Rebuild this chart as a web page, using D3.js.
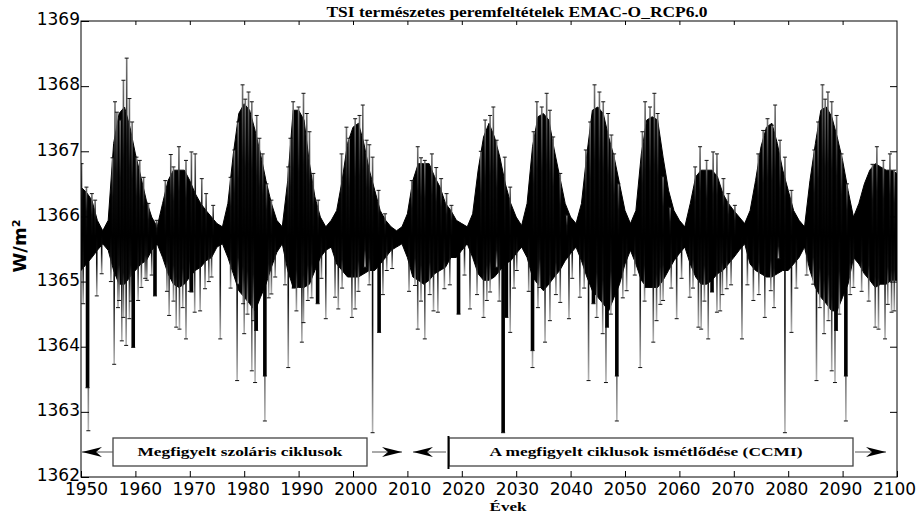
<!DOCTYPE html>
<html>
<head>
<meta charset="utf-8">
<script src="https://cdn.jsdelivr.net/npm/d3@7"></script>
<style>
  body { margin: 0; background: #fff; }
  svg { display: block; }
</style>
</head>
<body>
<div id="chart"></div>
<script>
'use strict'

// x categories: one core band value per year
const years = d3.range(1950, 2101)

// upper edge of the dense black band, W/m2 (1950 ... 2100)
const coreTop = [
  1366.45, 1366.37, 1366.25, 1365.94, 1365.78, 1365.94, 1367.12, 1367.58, 1367.68, 1367.37,
  1366.96, 1366.61, 1366.25, 1365.99, 1365.84, 1366.20, 1366.55, 1366.71, 1366.71, 1366.71,
  1366.55, 1366.35, 1366.20, 1366.09, 1365.99, 1365.89, 1365.84, 1366.20, 1366.96, 1367.58,
  1367.73, 1367.63, 1367.32, 1366.96, 1366.55, 1366.20, 1365.94, 1365.84, 1366.55, 1367.63,
  1367.63, 1367.48, 1366.81, 1366.30, 1365.99, 1365.84, 1365.94, 1366.09, 1366.55, 1367.12,
  1367.37, 1367.43, 1367.12, 1366.71, 1366.40, 1366.09, 1365.94, 1365.84, 1365.78, 1365.84,
  1366.04, 1366.55, 1366.81, 1366.81, 1366.81, 1366.61, 1366.45, 1366.20, 1366.09, 1365.94,
  1365.89, 1365.84, 1366.04, 1366.71, 1367.22, 1367.43, 1367.22, 1366.91, 1366.50, 1366.20,
  1365.99, 1365.86, 1366.20, 1367.07, 1367.53, 1367.58, 1367.48, 1367.02, 1366.61, 1366.20,
  1365.99, 1365.89, 1366.20, 1366.96, 1367.63, 1367.68, 1367.58, 1367.22, 1366.91, 1366.50,
  1366.09, 1365.89, 1366.09, 1366.96, 1367.48, 1367.53, 1367.48, 1366.91, 1366.40, 1366.09,
  1365.94, 1365.84, 1366.20, 1366.61, 1366.71, 1366.71, 1366.71, 1366.61, 1366.35, 1366.20,
  1366.09, 1365.99, 1365.89, 1366.09, 1366.55, 1367.07, 1367.37, 1367.43, 1367.12, 1366.71,
  1366.40, 1366.09, 1365.94, 1365.84, 1366.55, 1367.12, 1367.63, 1367.68, 1367.53, 1367.22,
  1366.86, 1366.40, 1365.99, 1366.20, 1366.50, 1366.71, 1366.81, 1366.76, 1366.71, 1366.71,
  1366.66
]

// lower edge of the dense black band, W/m2 (1950 ... 2100)
const coreBottom = [
  1365.17, 1365.27, 1365.37, 1365.48, 1365.58, 1365.48, 1365.17, 1364.96, 1364.96, 1365.07,
  1365.17, 1365.27, 1365.32, 1365.48, 1365.58, 1365.37, 1365.12, 1364.96, 1364.91, 1364.96,
  1365.07, 1365.17, 1365.22, 1365.32, 1365.37, 1365.53, 1365.58, 1365.37, 1365.12, 1364.86,
  1364.76, 1364.66, 1364.55, 1364.76, 1364.96, 1365.22, 1365.45, 1365.58, 1365.17, 1364.91,
  1364.91, 1364.91, 1364.96, 1365.17, 1365.37, 1365.48, 1365.53, 1365.27, 1365.17, 1365.07,
  1365.07, 1365.07, 1365.12, 1365.17, 1365.17, 1365.27, 1365.37, 1365.48, 1365.53, 1365.58,
  1365.37, 1365.07, 1365.02, 1364.96, 1365.02, 1365.12, 1365.17, 1365.22, 1365.37, 1365.37,
  1365.48, 1365.58, 1365.37, 1365.12, 1365.02, 1365.02, 1365.07, 1365.17, 1365.27, 1365.32,
  1365.43, 1365.53, 1365.37, 1365.07, 1364.96, 1364.86, 1364.96, 1365.07, 1365.17, 1365.32,
  1365.43, 1365.53, 1365.32, 1365.07, 1364.86, 1364.76, 1364.66, 1364.55, 1364.76, 1364.96,
  1365.27, 1365.48, 1365.27, 1365.02, 1364.91, 1364.91, 1364.91, 1365.02, 1365.17, 1365.32,
  1365.43, 1365.53, 1365.27, 1365.07, 1364.96, 1364.96, 1365.02, 1365.12, 1365.17, 1365.27,
  1365.37, 1365.48, 1365.58, 1365.27, 1365.17, 1365.12, 1365.07, 1365.07, 1365.12, 1365.17,
  1365.17, 1365.27, 1365.37, 1365.53, 1365.17, 1364.91, 1364.76, 1364.66, 1364.55, 1364.55,
  1364.76, 1364.96, 1365.37, 1365.27, 1365.12, 1365.02, 1364.91, 1364.96, 1364.96, 1365.02,
  1365.02
]

// single-day highs sticking out above the band: [year, W/m2]
const peakSpikes = [
  [1950.1, 1366.81], [1951.0, 1366.45], [1952.0, 1366.35], [1952.6, 1366.25],
  [1955.8, 1366.90], [1956.25, 1367.76], [1956.6, 1367.60], [1957.2, 1367.48], [1957.8, 1368.09],
  [1958.4, 1368.43], [1958.9, 1367.81], [1959.4, 1367.45], [1960.2, 1366.91], [1960.8, 1366.86],
  [1961.5, 1366.60], [1962.4, 1366.20], [1963.9, 1365.94],
  [1965.5, 1366.55], [1966.5, 1366.95], [1967.0, 1366.76], [1968.0, 1367.07], [1969.3, 1366.86],
  [1970.3, 1366.99], [1971.0, 1366.96], [1972.2, 1366.58], [1973.0, 1366.35], [1974.3, 1366.17],
  [1977.5, 1366.60], [1978.2, 1367.02], [1978.9, 1367.45], [1979.7, 1368.02], [1980.2, 1367.80],
  [1980.8, 1367.91], [1981.4, 1367.76], [1982.3, 1367.55], [1982.8, 1367.20], [1983.4, 1366.96],
  [1984.1, 1366.50], [1985.0, 1366.25],
  [1988.1, 1366.76], [1988.5, 1367.20], [1989.0, 1367.76], [1990.0, 1367.68], [1990.9, 1367.89],
  [1991.5, 1367.58], [1992.0, 1367.30], [1992.7, 1366.66], [1993.6, 1366.25],
  [1997.9, 1366.96], [1998.8, 1367.37], [1999.3, 1367.20], [2000.4, 1367.50], [2001.2, 1367.55],
  [2001.8, 1367.71], [2002.5, 1367.17], [2003.0, 1367.10], [2003.6, 1366.91], [2004.7, 1366.40],
  [2005.9, 1366.04],
  [2010.8, 1366.55], [2011.9, 1367.07], [2012.5, 1366.90], [2013.2, 1366.86], [2014.5, 1366.96],
  [2015.3, 1366.75], [2016.2, 1366.58], [2017.2, 1366.35], [2018.1, 1366.17],
  [2023.5, 1367.00], [2024.3, 1367.48], [2025.2, 1367.55], [2025.8, 1367.68], [2026.4, 1367.17],
  [2027.9, 1366.91], [2028.9, 1366.45],
  [2033.2, 1367.30], [2033.8, 1367.76], [2034.7, 1367.68], [2035.6, 1367.89], [2036.2, 1367.63],
  [2036.8, 1367.22], [2038.1, 1366.66], [2039.3, 1366.02],
  [2042.8, 1367.02], [2043.6, 1367.45], [2044.4, 1368.02], [2045.3, 1367.91], [2046.0, 1367.76],
  [2046.9, 1367.58], [2047.5, 1367.25], [2048.0, 1366.96], [2048.8, 1366.50],
  [2053.2, 1367.30], [2053.7, 1367.76], [2054.6, 1367.68], [2055.4, 1367.89], [2056.0, 1367.58],
  [2057.0, 1366.61], [2058.3, 1366.14],
  [2062.9, 1366.76], [2063.8, 1367.07], [2065.0, 1366.86], [2066.2, 1366.99], [2066.9, 1366.96],
  [2068.1, 1366.58], [2069.0, 1366.35], [2070.2, 1366.17],
  [2074.5, 1366.96], [2075.4, 1367.32], [2076.2, 1367.50], [2077.0, 1367.40], [2077.6, 1367.71],
  [2078.5, 1367.17], [2079.4, 1366.91], [2080.6, 1366.40],
  [2084.8, 1367.02], [2085.5, 1367.45], [2086.3, 1368.02], [2086.8, 1367.80], [2087.3, 1367.91],
  [2088.0, 1367.76], [2088.9, 1367.55], [2089.8, 1366.96], [2090.8, 1366.50],
  [2095.5, 1366.80], [2096.3, 1367.07], [2097.5, 1366.86], [2098.7, 1366.96], [2099.5, 1366.71]
]

// single-day lows below the band (sunspot dips): [year, W/m2]
const dipSpikes = [
  [1950.4, 1364.66], [1951.35, 1362.71], [1952.9, 1364.78], [1953.8, 1365.12],
  [1955.5, 1365.00], [1956.1, 1363.73], [1956.8, 1364.60], [1957.0, 1364.71], [1957.5, 1364.09],
  [1957.8, 1364.45], [1958.3, 1364.02], [1958.9, 1364.43], [1959.2, 1364.70], [1960.5, 1364.71],
  [1961.1, 1364.91], [1961.8, 1365.05], [1962.1, 1365.02], [1963.0, 1365.10],
  [1965.8, 1364.85], [1966.2, 1364.48], [1967.0, 1364.70], [1967.5, 1364.30], [1968.1, 1364.27],
  [1968.7, 1364.60], [1969.3, 1364.12], [1970.0, 1364.85], [1970.9, 1364.53], [1971.9, 1364.55],
  [1972.8, 1364.89], [1973.5, 1365.00], [1974.0, 1365.07], [1975.6, 1364.12],
  [1977.5, 1364.90], [1978.7, 1363.48], [1978.9, 1364.96], [1979.8, 1364.66], [1980.0, 1364.20],
  [1980.6, 1364.50], [1981.4, 1363.63], [1981.7, 1364.40], [1982.0, 1363.45], [1983.8, 1362.86],
  [1984.5, 1364.75], [1985.0, 1364.81], [1985.7, 1365.07], [1987.5, 1364.95],
  [1988.1, 1363.68], [1989.6, 1364.55], [1990.6, 1364.07], [1990.9, 1364.37], [1991.7, 1364.71],
  [1992.4, 1364.75], [1994.2, 1365.05], [1995.0, 1364.43],
  [1996.7, 1364.76], [1997.3, 1364.58], [1998.0, 1364.90], [1999.8, 1364.45], [2000.4, 1364.58],
  [2001.0, 1364.85], [2002.2, 1365.22], [2003.0, 1364.95], [2003.6, 1362.68], [2005.5, 1364.80],
  [2006.2, 1365.17], [2007.2, 1365.20],
  [2010.3, 1364.85], [2011.4, 1364.94], [2011.9, 1364.27], [2012.5, 1364.70], [2013.2, 1364.12],
  [2014.1, 1364.80], [2014.8, 1364.55], [2015.6, 1364.53], [2016.8, 1364.89], [2017.8, 1364.95],
  [2020.5, 1365.10], [2021.5, 1364.58], [2022.8, 1364.80], [2024.0, 1364.45], [2024.6, 1364.71],
  [2025.2, 1364.84], [2026.4, 1365.22], [2026.9, 1364.70], [2028.9, 1364.22], [2029.6, 1364.90],
  [2030.1, 1365.17],
  [2032.3, 1364.85], [2033.0, 1363.68], [2034.0, 1364.60], [2034.3, 1364.91], [2035.3, 1364.07],
  [2036.2, 1364.40], [2037.3, 1364.80], [2038.1, 1364.68], [2039.7, 1364.43], [2040.3, 1365.05],
  [2041.7, 1364.76], [2042.5, 1364.90], [2043.3, 1363.48], [2044.8, 1364.45], [2045.9, 1364.20],
  [2046.5, 1363.45], [2047.4, 1364.50], [2048.5, 1362.86], [2049.6, 1364.75], [2050.3, 1364.86],
  [2051.8, 1365.10], [2052.8, 1363.68], [2053.6, 1364.70], [2055.2, 1364.07], [2055.8, 1364.40],
  [2056.5, 1364.65], [2057.0, 1364.71], [2058.5, 1364.90], [2059.5, 1364.43], [2060.4, 1365.05],
  [2061.9, 1364.76], [2062.5, 1364.90], [2063.5, 1364.30], [2064.0, 1364.27], [2064.6, 1364.70],
  [2065.3, 1364.12], [2066.9, 1364.53], [2067.5, 1364.55], [2067.9, 1364.80], [2068.7, 1364.89],
  [2069.5, 1364.95], [2071.5, 1364.12], [2072.5, 1364.95],
  [2073.6, 1364.71], [2074.6, 1364.80], [2075.7, 1364.45], [2076.8, 1364.86], [2077.4, 1364.60],
  [2078.2, 1365.35], [2079.4, 1362.68], [2080.6, 1364.22], [2081.5, 1364.90], [2083.4, 1365.10],
  [2084.6, 1364.96], [2085.2, 1363.48], [2085.8, 1364.60], [2086.6, 1364.20], [2087.4, 1364.40],
  [2088.0, 1363.63], [2088.6, 1363.45], [2089.4, 1364.50], [2090.6, 1362.86], [2091.4, 1364.80],
  [2092.0, 1364.91], [2093.5, 1364.85], [2094.8, 1364.70], [2096.0, 1364.30], [2096.6, 1364.27],
  [2097.8, 1364.12], [2098.3, 1364.65], [2099.0, 1364.53], [2099.5, 1364.55]
]

// wide, fully black dips (several dark days in a row): [year, W/m2]
const heavyDips = [
  [1951.2, 1363.37], [1959.6, 1363.99], [1963.6, 1364.78], [1970.3, 1364.84], [1982.2, 1364.25],
  [1983.8, 1363.55], [1989.1, 1364.90], [1993.5, 1364.66], [2004.8, 1364.22], [2019.4, 1364.50],
  [2027.6, 1362.68], [2028.2, 1364.45], [2033.0, 1363.94], [2044.2, 1364.66], [2046.7, 1364.30],
  [2048.5, 1363.55], [2054.0, 1364.91], [2066.0, 1364.84], [2088.8, 1364.25], [2090.6, 1363.55]
]

const xTickValues = d3.range(1950, 2101, 10)
const yTickValues = d3.range(1362, 1370)
const titleText = 'TSI természetes peremfeltételek EMAC-O_RCP6.0'
const xLabel = 'Évek'
const yLabel = 'W/m²'
const noteObserved = 'Megfigyelt szoláris ciklusok'
const noteRepeated = 'A megfigyelt ciklusok ismétlődése (CCMI)'

const W = 920
const H = 513
const margin = { top: 21, right: 23, bottom: 36, left: 81 }
const width = W - margin.left - margin.right
const height = H - margin.top - margin.bottom
const spikeBase = 1365.7

const svgFull = d3.select('#chart')
  .append('svg')
  .attr('width', W)
  .attr('height', H)

const defs = svgFull.append('defs')

defs.append('clipPath')
  .attr('id', 'plotClip')
  .append('rect')
  .attr('width', width)
  .attr('height', height)

// thin dips fade out towards the tip, like the anti-aliased originals
const dipGrad = defs.append('linearGradient')
  .attr('id', 'dipGrad')
  .attr('x1', 0).attr('y1', 0).attr('x2', 0).attr('y2', 1)
dipGrad.append('stop').attr('offset', '0%').attr('stop-color', '#000')
dipGrad.append('stop').attr('offset', '45%').attr('stop-color', '#111')
dipGrad.append('stop').attr('offset', '100%').attr('stop-color', '#b5b5b5')

const peakGrad = defs.append('linearGradient')
  .attr('id', 'peakGrad')
  .attr('x1', 0).attr('y1', 0).attr('x2', 0).attr('y2', 1)
peakGrad.append('stop').attr('offset', '0%').attr('stop-color', '#777')
peakGrad.append('stop').attr('offset', '50%').attr('stop-color', '#111')
peakGrad.append('stop').attr('offset', '100%').attr('stop-color', '#000')

defs.append('marker')
  .attr('id', 'arrowHead')
  .attr('viewBox', '0 -5 20 10')
  .attr('refX', 20)
  .attr('refY', 0)
  .attr('markerUnits', 'userSpaceOnUse')
  .attr('markerWidth', 20)
  .attr('markerHeight', 10)
  .attr('orient', 'auto')
  .append('path')
  .attr('d', 'M0,-5L20,0L0,5L6,0Z')
  .attr('fill', '#000')

const svg = svgFull.append('g')
  .attr('transform', 'translate(' + margin.left + ' ' + margin.top + ')')

const x = d3.scaleLinear().domain([1950, 2100]).range([0, width])
const y = d3.scaleLinear().domain([1362, 1369]).range([height, 0])

// data layer
const plot = svg.append('g').attr('clip-path', 'url(#plotClip)')

const core = years.map((yr, i) => ({ year: yr, top: coreTop[i], bottom: coreBottom[i] }))

plot.append('path')
  .datum(core)
  .attr('fill', '#000')
  .attr('stroke', '#000')
  .attr('stroke-width', 1)
  .attr('d', d3.area()
    .x(d => x(d.year))
    .y0(d => y(d.bottom))
    .y1(d => y(d.top)))

plot.append('g').selectAll('rect')
  .data(dipSpikes)
  .join('rect')
  .attr('x', d => x(d[0]) - 0.8)
  .attr('y', y(spikeBase))
  .attr('width', 1.6)
  .attr('height', d => y(d[1]) - y(spikeBase))
  .attr('fill', 'url(#dipGrad)')

plot.append('g').selectAll('rect')
  .data(peakSpikes)
  .join('rect')
  .attr('x', d => x(d[0]) - 0.8)
  .attr('y', d => y(d[1]))
  .attr('width', 1.6)
  .attr('height', d => y(spikeBase) - y(d[1]))
  .attr('fill', 'url(#peakGrad)')

plot.append('g').selectAll('rect')
  .data(heavyDips)
  .join('rect')
  .attr('x', d => x(d[0]) - 1.8)
  .attr('y', y(spikeBase))
  .attr('width', 3.6)
  .attr('height', d => y(d[1]) - y(spikeBase))
  .attr('fill', '#000')

// small caps at the spike tips
plot.append('g').selectAll('line')
  .data(peakSpikes.concat(dipSpikes, heavyDips))
  .join('line')
  .attr('x1', d => x(d[0]) - 2)
  .attr('x2', d => x(d[0]) + 2)
  .attr('y1', d => y(d[1]))
  .attr('y2', d => y(d[1]))
  .attr('stroke', '#111')
  .attr('stroke-width', 1)

// axes, ticks point inwards
const tickFont = 'DejaVu Sans, sans-serif'

const gLeft = svg.append('g')
  .call(d3.axisLeft(y).tickValues(yTickValues).tickSize(-8).tickPadding(1).tickFormat(d3.format('d')))
gLeft.select('.domain').remove()
gLeft.selectAll('text')
  .attr('dy', '0.22em')
  .style('font-family', tickFont)
  .style('font-size', '17px')
  .attr('fill', '#000')

const gRight = svg.append('g')
  .attr('transform', 'translate(' + width + ',0)')
  .call(d3.axisRight(y).tickValues(d3.range(1363, 1369)).tickSize(-7).tickFormat(''))
gRight.select('.domain').remove()

const gTop = svg.append('g')
  .call(d3.axisTop(x).tickValues(xTickValues.slice(1, -1)).tickSize(-4).tickFormat(''))
gTop.select('.domain').remove()

const gBottom = svg.append('g')
  .attr('transform', 'translate(0,' + height + ')')
  .call(d3.axisBottom(x).tickValues(xTickValues).tickSize(-6).tickPadding(6).tickFormat(d3.format('d')))
gBottom.select('.domain').remove()
// the year labels sit on a slightly narrower span than the ticks
gBottom.selectAll('text')
  .attr('dx', (d, i) => 5 - 8 * i / (xTickValues.length - 1))
  .style('font-family', tickFont)
  .style('font-size', '17px')
  .attr('fill', '#000')

svg.selectAll('.tick line').attr('stroke', '#000')

svg.append('rect')
  .attr('width', width)
  .attr('height', height)
  .attr('fill', 'none')
  .attr('stroke', '#000')
  .attr('stroke-width', 1)

// annotation boxes with arrows
const notes = svgFull.append('g')
const noteY = 452

notes.append('rect')
  .attr('x', 113).attr('y', 438)
  .attr('width', 254).attr('height', 28)
  .attr('fill', '#fff')
  .attr('stroke', '#444')
  .attr('stroke-width', 1.3)

notes.append('rect')
  .attr('x', 449).attr('y', 438)
  .attr('width', 404).attr('height', 28)
  .attr('fill', '#fff')
  .attr('stroke', '#444')
  .attr('stroke-width', 1.3)

notes.append('line')
  .attr('x1', 448.5).attr('x2', 448.5)
  .attr('y1', 436).attr('y2', 469)
  .attr('stroke', '#000')
  .attr('stroke-width', 2)

const arrows = [[113, 82], [372, 402], [446, 413], [855, 886]]
notes.selectAll('line.arrow')
  .data(arrows)
  .join('line')
  .attr('class', 'arrow')
  .attr('x1', d => d[0])
  .attr('x2', d => d[1])
  .attr('y1', noteY)
  .attr('y2', noteY)
  .attr('stroke', '#555')
  .attr('stroke-width', 1)
  .attr('marker-end', 'url(#arrowHead)')

const serif = 'Liberation Serif, Times New Roman, serif'

notes.append('text')
  .attr('x', 240).attr('y', 456)
  .attr('text-anchor', 'middle')
  .attr('textLength', 205)
  .attr('lengthAdjust', 'spacingAndGlyphs')
  .style('font-family', serif)
  .style('font-weight', 'bold')
  .style('font-size', '13px')
  .text(noteObserved)

notes.append('text')
  .attr('x', 646).attr('y', 456)
  .attr('text-anchor', 'middle')
  .attr('textLength', 313)
  .attr('lengthAdjust', 'spacingAndGlyphs')
  .style('font-family', serif)
  .style('font-weight', 'bold')
  .style('font-size', '13px')
  .text(noteRepeated)

// titles
svgFull.append('text')
  .attr('x', 517).attr('y', 17)
  .attr('text-anchor', 'middle')
  .attr('textLength', 381)
  .attr('lengthAdjust', 'spacingAndGlyphs')
  .style('font-family', serif)
  .style('font-weight', 'bold')
  .style('font-size', '14px')
  .text(titleText)

svgFull.append('text')
  .attr('x', 508).attr('y', 511)
  .attr('text-anchor', 'middle')
  .attr('textLength', 37)
  .attr('lengthAdjust', 'spacingAndGlyphs')
  .style('font-family', serif)
  .style('font-weight', 'bold')
  .style('font-size', '12px')
  .text(xLabel)

svgFull.append('text')
  .attr('transform', 'translate(26,246) rotate(-90)')
  .attr('text-anchor', 'middle')
  .style('font-family', 'DejaVu Sans, sans-serif')
  .style('font-weight', 'bold')
  .style('font-size', '18px')
  .text(yLabel)
</script>
</body>
</html>
